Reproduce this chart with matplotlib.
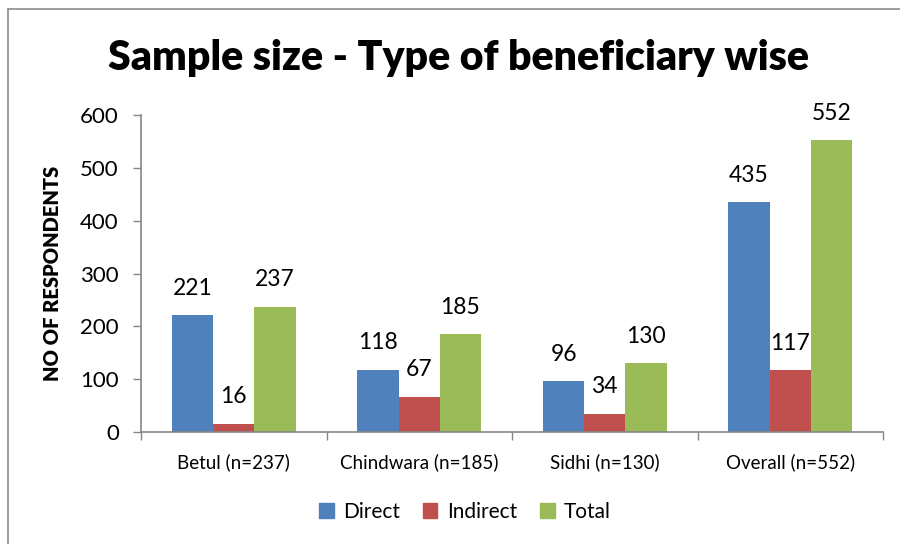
import matplotlib
matplotlib.use("Agg")
import matplotlib.pyplot as plt
import numpy as np
from matplotlib.lines import Line2D

categories = ["Betul (n=237)", "Chindwara (n=185)", "Sidhi (n=130)", "Overall (n=552)"]
series_names = ["Direct", "Indirect", "Total"]
direct = [221, 118, 96, 435]
indirect = [16, 67, 34, 117]
total = [237, 185, 130, 552]
colors = ["#4F81BD", "#C0504D", "#9BBB59"]

plt.rcParams['font.family'] = ['Lato', 'DejaVu Sans']

W, H = 900, 544
fig = plt.figure(figsize=(9, 5.44), dpi=100)
ax = fig.add_axes([141 / W, 1 - 432 / H, (883 - 141) / W, (432 - 115) / H])

x = np.arange(len(categories))
bw = 0.222
for i, (vals, name, c) in enumerate(zip([direct, indirect, total], series_names, colors)):
    pos = x + (i - 1) * bw
    ax.bar(pos, vals, width=bw, color=c, label=name, zorder=2)
    for p, v in zip(pos, vals):
        ax.annotate(str(v), (p, v), xytext=(0, 12), textcoords="offset points",
                    ha="center", va="bottom", fontsize=16.5, color="black")

ax.set_xlim(-0.5, len(categories) - 0.5)
ax.set_ylim(0, 600)
ax.set_yticks(range(0, 601, 100))
ax.tick_params(axis='y', labelsize=16, length=6, width=1, color="#868686", direction="out", pad=10)
ax.set_xticks(x)
ax.set_xticklabels(categories, fontsize=13.5)
ax.tick_params(axis='x', length=0, pad=15)
# category boundary ticks
ax.set_xticks(np.arange(-0.5, len(categories), 1.0), minor=True)
ax.tick_params(axis='x', which='minor', length=6, width=1, color="#868686", direction="out")

for s in ["top", "right"]:
    ax.spines[s].set_visible(False)
for s in ["left", "bottom"]:
    ax.spines[s].set_color("#868686")
    ax.spines[s].set_linewidth(1.2)

ax.set_ylabel("NO OF RESPONDENTS", fontsize=14.5, fontweight="heavy")
ax.yaxis.set_label_coords((62 - 141) / (883 - 141), 0.5)

fig.text(459 / W, 1 - 58 / H, "Sample size - Type of beneficiary wise", ha="center", va="center",
         fontsize=29.5, fontweight="heavy")

handles = [plt.Rectangle((0, 0), 1, 1, color=c) for c in colors]
fig.legend(handles, series_names, loc="center", bbox_to_anchor=(465 / W, 1 - 512 / H), ncol=3,
           frameon=False, fontsize=15, handlelength=0.7, handleheight=0.7, handletextpad=0.45,
           columnspacing=1.1)

# chart border (left and top visible)
fig.add_artist(Line2D([8 / W, 8 / W], [0, 1 - 9 / H], transform=fig.transFigure, color="#8C8C8C", lw=1.2))
fig.add_artist(Line2D([8 / W, 1], [1 - 9 / H, 1 - 9 / H], transform=fig.transFigure, color="#8C8C8C", lw=1.2))

fig.savefig("out.png", dpi=100)
